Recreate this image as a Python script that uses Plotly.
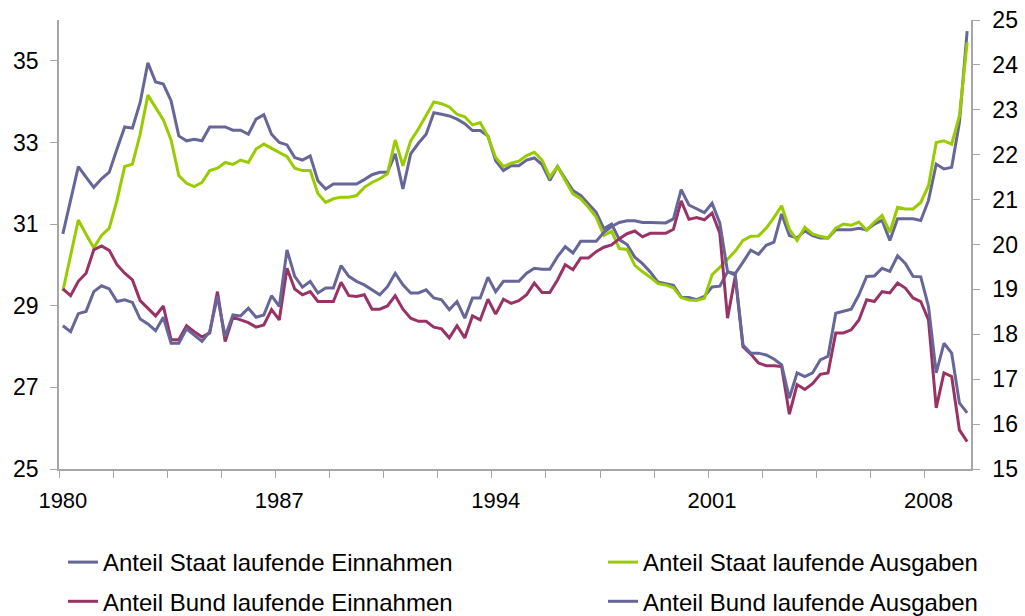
import numpy as np
import plotly.graph_objects as go

# ---- data (quarterly, 1980Q1 .. 2009Q2) ----
start_year = 1980
n_quarters = 118
period_labels = [f"{start_year + i // 4}Q{i % 4 + 1}" for i in range(n_quarters)]

staat_einnahmen = [
    30.76, 31.58, 32.41, 32.15, 31.90, 32.11, 32.27, 32.84, 33.38, 33.35,
    33.98, 34.95, 34.48, 34.43, 34.02, 33.16, 33.04, 33.08, 33.04, 33.38,
    33.38, 33.38, 33.30, 33.30, 33.20, 33.57, 33.68, 33.20, 33.00, 32.94,
    32.63, 32.57, 32.67, 32.06, 31.86, 31.98, 31.98, 31.98, 31.98, 32.09,
    32.21, 32.27, 32.27, 32.72, 31.86, 32.72, 32.98, 33.20, 33.73, 33.69,
    33.65, 33.57, 33.46, 33.29, 33.29, 33.16, 32.55, 32.31, 32.43, 32.43,
    32.57, 32.62, 32.46, 32.07, 32.41, 32.11, 31.82, 31.70, 31.50, 31.29,
    30.89, 31.00, 30.62, 30.50, 30.19, 30.03, 29.83, 29.58, 29.54, 29.50,
    29.21, 29.20, 29.15, 29.23, 29.46, 29.48, 29.83, 29.79, 30.07, 30.36,
    30.26, 30.48, 30.56, 31.25, 30.72, 30.66, 30.84, 30.72, 30.66, 30.66,
    30.86, 30.86, 30.86, 30.90, 30.86, 31.00, 31.09, 30.60, 31.13, 31.13,
    31.13, 31.09, 31.58, 32.47, 32.35, 32.39, 33.49, 35.73,
]

staat_ausgaben = [
    29.36, 30.20, 31.10, 30.75, 30.42, 30.72, 30.90, 31.58, 32.41, 32.47,
    33.20, 34.16, 33.86, 33.55, 33.06, 32.19, 32.00, 31.92, 32.02, 32.31,
    32.37, 32.51, 32.46, 32.57, 32.51, 32.84, 32.96, 32.86, 32.76, 32.65,
    32.37, 32.31, 32.31, 31.75, 31.53, 31.62, 31.66, 31.66, 31.70, 31.90,
    32.02, 32.11, 32.23, 33.06, 32.43, 33.04, 33.33, 33.65, 33.99, 33.95,
    33.87, 33.69, 33.63, 33.43, 33.49, 33.14, 32.63, 32.41, 32.49, 32.54,
    32.68, 32.76, 32.57, 32.15, 32.41, 32.07, 31.74, 31.62, 31.41, 31.17,
    30.72, 30.82, 30.40, 30.38, 29.99, 29.83, 29.70, 29.54, 29.51, 29.44,
    29.20, 29.14, 29.13, 29.18, 29.76, 29.94, 30.13, 30.34, 30.60, 30.70,
    30.71, 30.90, 31.16, 31.45, 30.87, 30.60, 30.92, 30.76, 30.70, 30.66,
    30.90, 31.00, 30.97, 31.05, 30.85, 31.05, 31.21, 30.80, 31.41, 31.37,
    31.37, 31.53, 31.94, 33.00, 33.04, 32.96, 33.65, 35.45,
]

bund_einnahmen = [
    19.01, 18.86, 19.18, 19.36, 19.88, 19.97, 19.87, 19.55, 19.36, 19.21,
    18.75, 18.58, 18.41, 18.63, 17.88, 17.88, 18.19, 18.06, 17.94, 18.03,
    18.95, 17.84, 18.38, 18.32, 18.26, 18.16, 18.21, 18.55, 18.32, 19.47,
    19.01, 18.88, 18.95, 18.73, 18.73, 18.73, 19.16, 18.86, 18.84, 18.88,
    18.56, 18.56, 18.63, 18.86, 18.56, 18.36, 18.29, 18.29, 18.16, 18.12,
    17.92, 18.19, 17.92, 18.41, 18.32, 18.78, 18.45, 18.78, 18.69, 18.75,
    18.88, 19.14, 18.93, 18.93, 19.21, 19.55, 19.44, 19.70, 19.70, 19.84,
    19.94, 19.99, 20.13, 20.24, 20.30, 20.17, 20.25, 20.25, 20.25, 20.34,
    20.97, 20.56, 20.60, 20.55, 20.70, 20.25, 18.36, 19.29, 17.72, 17.56,
    17.36, 17.30, 17.30, 17.28, 16.22, 16.88, 16.77, 16.90, 17.11, 17.14,
    18.03, 18.03, 18.10, 18.32, 18.77, 18.73, 18.95, 18.92, 19.14, 19.03,
    18.81, 18.73, 18.32, 16.36, 17.14, 17.06, 15.87, 15.61,
]

bund_ausgaben = [
    18.19, 18.06, 18.46, 18.51, 18.95, 19.08, 19.01, 18.73, 18.77, 18.71,
    18.34, 18.23, 18.08, 18.38, 17.80, 17.80, 18.12, 17.99, 17.84, 18.06,
    18.84, 17.95, 18.43, 18.41, 18.58, 18.38, 18.43, 18.86, 18.62, 19.88,
    19.29, 19.05, 19.18, 18.92, 19.03, 19.03, 19.53, 19.29, 19.18, 19.10,
    18.99, 18.88, 19.06, 19.36, 19.10, 18.92, 18.92, 18.99, 18.81, 18.77,
    18.55, 18.73, 18.36, 18.81, 18.81, 19.27, 18.95, 19.18, 19.18, 19.18,
    19.36, 19.47, 19.45, 19.45, 19.73, 19.95, 19.81, 20.07, 20.07, 20.07,
    20.27, 20.40, 20.49, 20.53, 20.53, 20.49, 20.49, 20.49, 20.48, 20.57,
    21.22, 20.88, 20.79, 20.71, 20.92, 20.48, 19.40, 19.32, 17.76, 17.58,
    17.58, 17.54, 17.45, 17.32, 16.58, 17.14, 17.06, 17.14, 17.43, 17.51,
    18.47, 18.51, 18.56, 18.88, 19.29, 19.30, 19.47, 19.40, 19.75, 19.58,
    19.29, 19.28, 18.62, 17.14, 17.80, 17.58, 16.47, 16.25,
]

series_names = [
    "Anteil Staat laufende Einnahmen",
    "Anteil Staat laufende Ausgaben",
    "Anteil Bund laufende Einnahmen",
    "Anteil Bund laufende Ausgaben",
]
x_tick_labels = ["1980", "1987", "1994", "2001", "2008"]
left_ticks = [25, 27, 29, 31, 33, 35]
right_ticks = list(range(15, 26))

# ---- styling ----
BLUE = "#666699"
GREEN = "#99CC00"
MAROON = "#993366"
AXIS = "#A6A6A6"
FONT = "Liberation Sans, Arial, sans-serif"
W, H = 1025, 616

x = np.arange(n_quarters)
label_idx = [period_labels.index(f"{y}Q1") for y in x_tick_labels]
minor_idx = [i - 0.5 for i in range(0, n_quarters, 7)]

fig = go.Figure()
specs = [
    (staat_einnahmen, series_names[0], BLUE, "y", "legend"),
    (staat_ausgaben, series_names[1], GREEN, "y", "legend2"),
    (bund_einnahmen, series_names[2], MAROON, "y2", "legend"),
    (bund_ausgaben, series_names[3], BLUE, "y2", "legend2"),
]
for vals, name, col, ax, lg in specs:
    fig.add_trace(go.Scatter(
        x=x, y=vals, name=name, mode="lines",
        line=dict(color=col, width=3),
        yaxis=ax, legend=lg, legendgroup=name,
        customdata=period_labels,
        hovertemplate="%{customdata}: %{y}<extra>" + name + "</extra>",
    ))

legend_common = dict(
    orientation="v", font=dict(family=FONT, size=24, color="black"),
    bgcolor="rgba(0,0,0,0)", borderwidth=0, tracegroupgap=5,
    xref="container", yref="container",
    xanchor="left", yanchor="top", y=1 - 540 / H,
)

fig.update_layout(
    width=W, height=H,
    margin=dict(l=59, r=54, t=20, b=147, autoexpand=False),
    paper_bgcolor="white", plot_bgcolor="white",
    font=dict(family=FONT, color="black"),
    showlegend=True,
    legend=dict(legend_common, x=63 / W),
    legend2=dict(legend_common, x=603 / W),
    xaxis=dict(
        range=[-0.5, n_quarters - 0.5],
        tickmode="array", tickvals=label_idx, ticktext=x_tick_labels,
        ticks="", showgrid=False, zeroline=False, automargin=False,
        showline=True, linecolor=AXIS, linewidth=1.5,
        tickfont=dict(family=FONT, size=22, color="black"),
        ticklabelstandoff=11,
        minor=dict(tickmode="array", tickvals=minor_idx, ticks="outside",
                   ticklen=7, tickwidth=1.2, tickcolor=AXIS, showgrid=False),
    ),
    yaxis=dict(
        range=[25, 36], tickmode="array", tickvals=left_ticks,
        ticks="outside", ticklen=7, tickwidth=1.2, tickcolor=AXIS,
        showline=True, linecolor=AXIS, linewidth=1.5,
        showgrid=False, zeroline=False, automargin=False,
        tickfont=dict(family=FONT, size=23, color="black"),
        ticklabelstandoff=7,
    ),
    yaxis2=dict(
        range=[15, 25], tickmode="array", tickvals=right_ticks,
        overlaying="y", side="right",
        ticks="outside", ticklen=7, tickwidth=1.2, tickcolor=AXIS,
        showline=True, linecolor=AXIS, linewidth=1.5,
        showgrid=False, zeroline=False, automargin=False,
        tickfont=dict(family=FONT, size=23, color="black"),
        ticklabelstandoff=8,
    ),
)

fig.write_html(
    "out.html",
    config={"displayModeBar": False},
    post_script="document.body.style.margin='0';document.body.style.overflow='hidden';",
)
